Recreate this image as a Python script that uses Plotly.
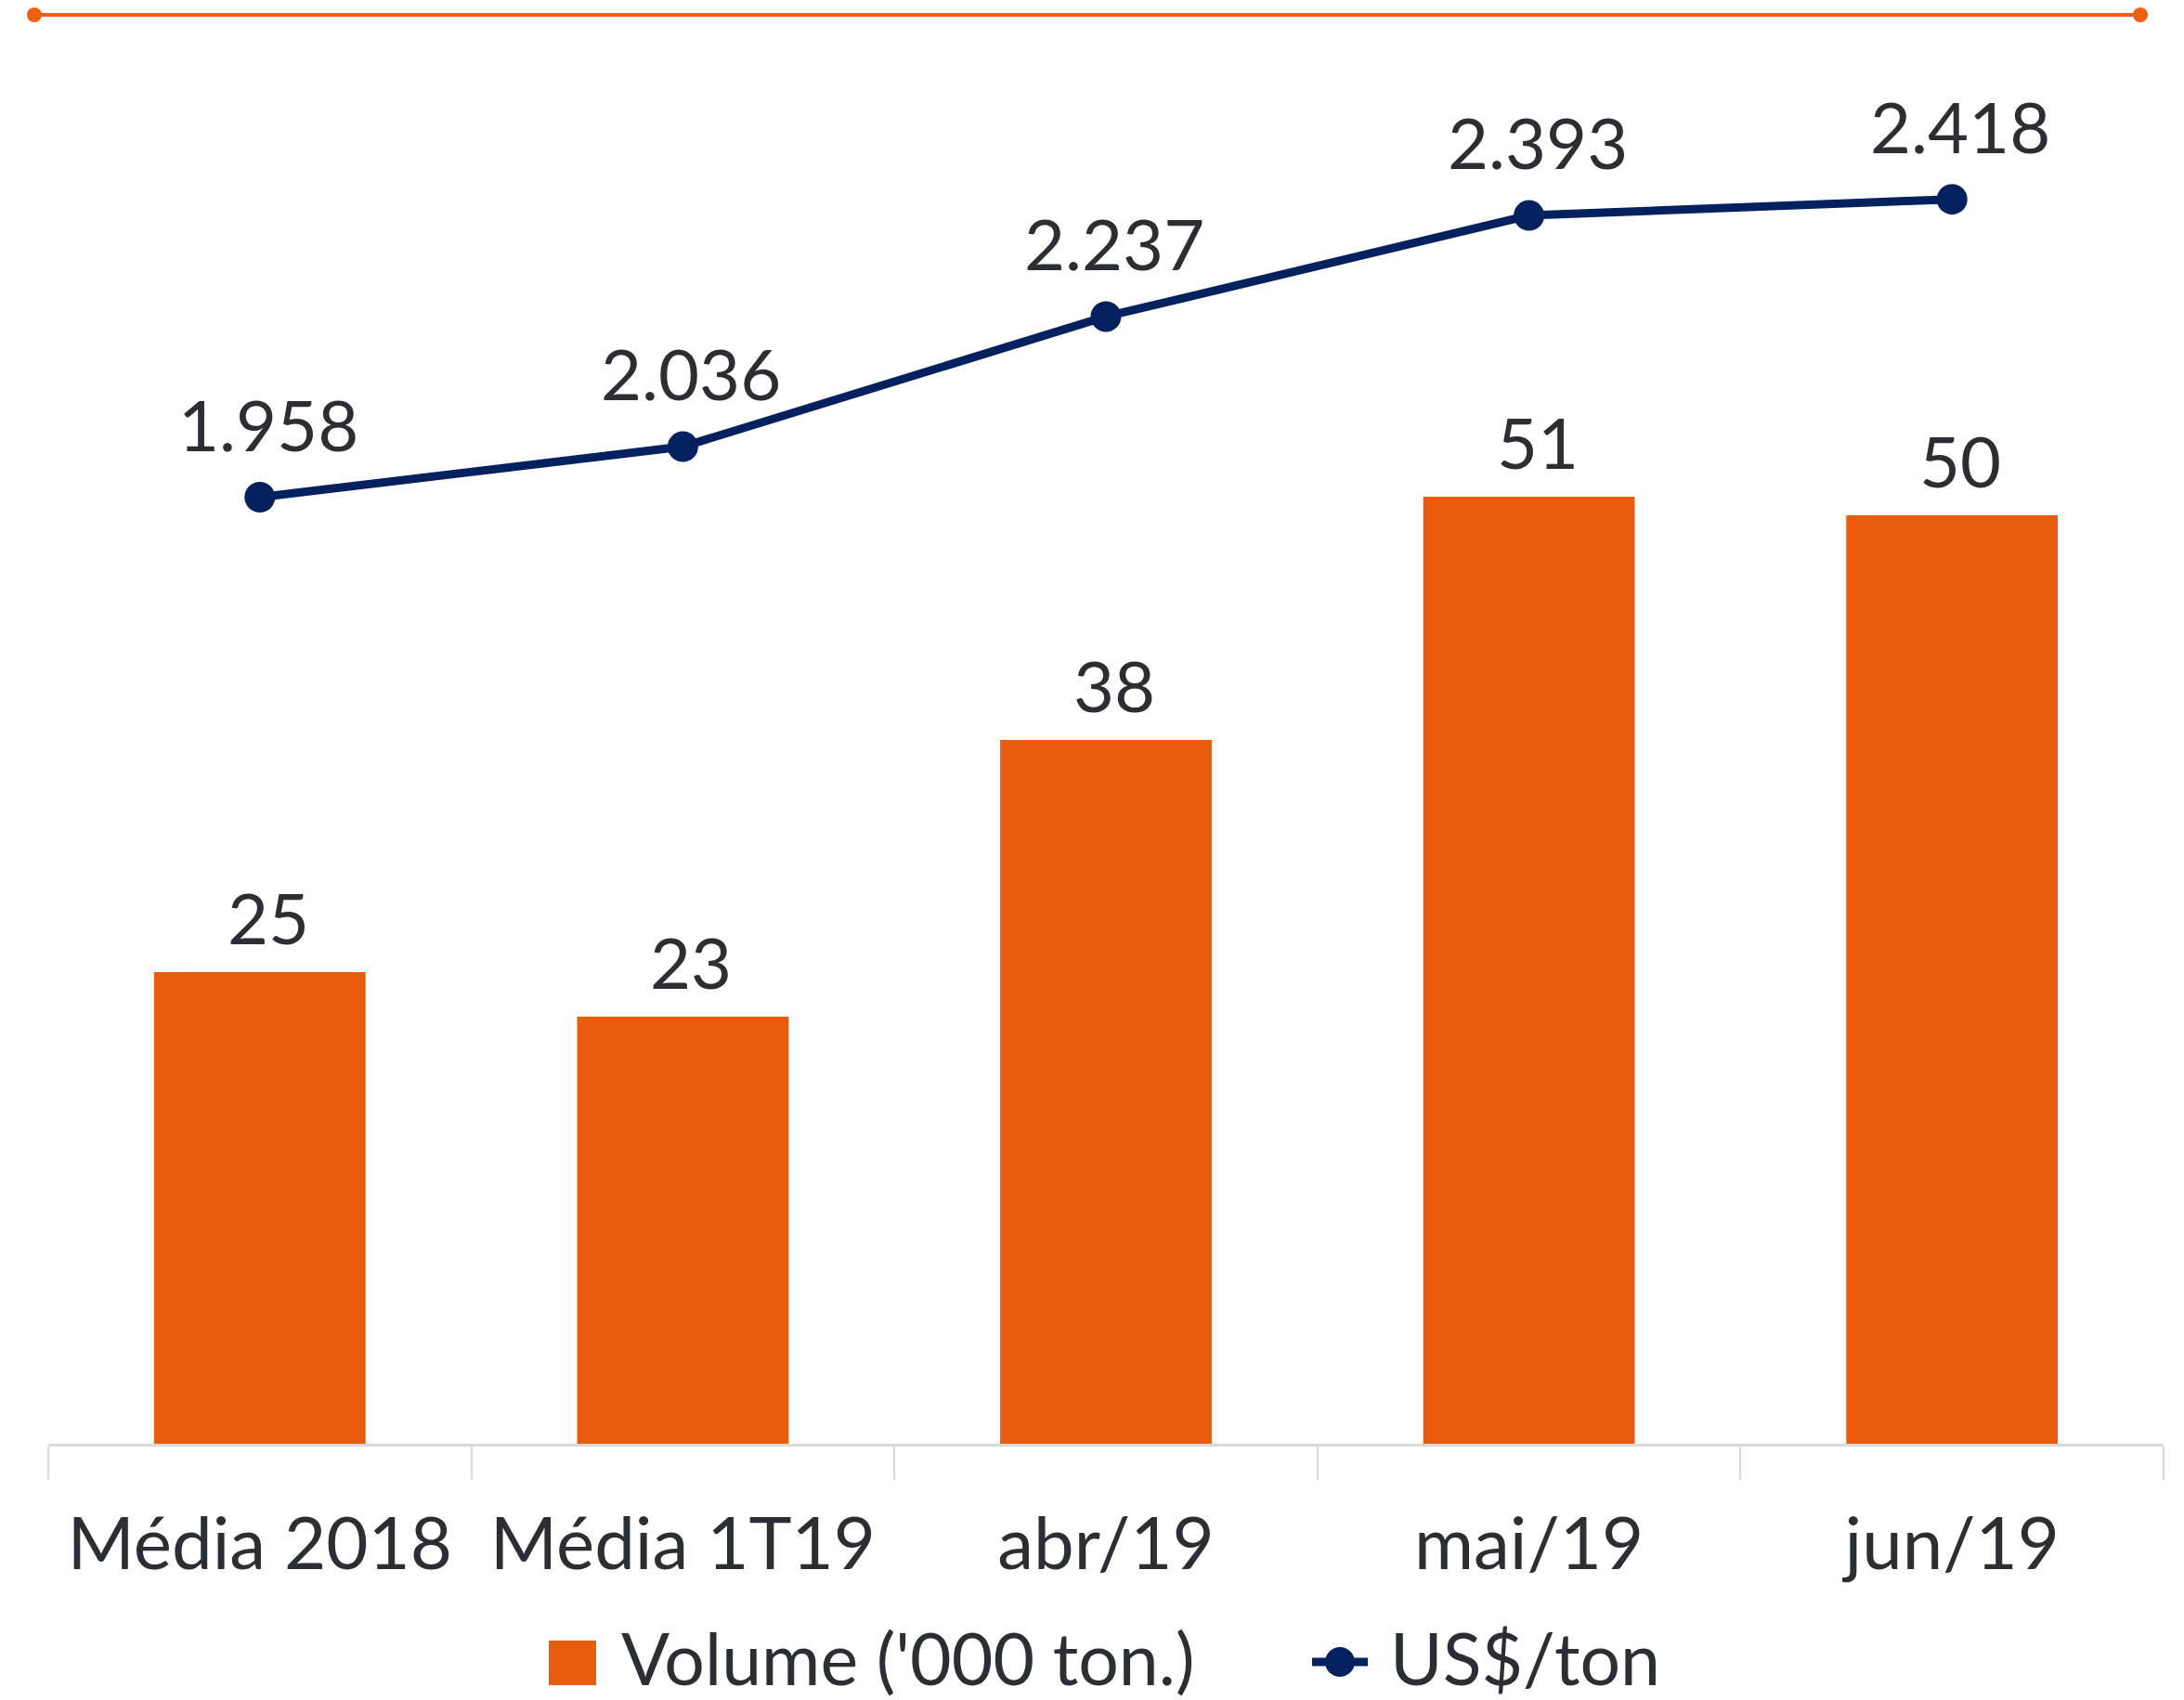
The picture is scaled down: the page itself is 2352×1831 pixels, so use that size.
import plotly.graph_objects as go

categories = ["Média 2018", "Média 1T19", "abr/19", "mai/19", "jun/19"]
volume = [25.4, 23.0, 37.9, 51.0, 50.0]
volume_labels = ["25", "23", "38", "51", "50"]
price = [1958, 2036, 2237, 2393, 2418]

ORANGE = "#E95B0D"
NAVY = "#03215E"
TEXT = "#2B2E33"
FONT = "Lato"

W, H = 2352, 1831
ML = 52
MT = 30
MR = W - 2330
MB = H - 1555
PW = W - ML - MR
PH = H - MT - MB


def px2paper_x(px):
    return (px - ML) / PW


def px2paper_y(py):
    return (H - MB - py) / PH


fig = go.Figure()
fig.add_trace(go.Bar(
    x=categories, y=volume, name="Volume ('000 ton.)",
    marker=dict(color=ORANGE, line=dict(width=0)), width=0.5,
    showlegend=False, hoverinfo="skip",
))
fig.add_trace(go.Scatter(
    x=categories, y=price, name="US$/ton", yaxis="y2",
    mode="lines+markers",
    line=dict(color=NAVY, width=9),
    marker=dict(color=NAVY, size=33),
    showlegend=False, hoverinfo="skip",
))

annotations = []
for c, v, lab in zip(categories, volume, volume_labels):
    annotations.append(dict(
        x=c, y=v, xref="x", yref="y", text=lab, showarrow=False,
        yanchor="bottom", xanchor="center", xshift=9, yshift=12,
        font=dict(family=FONT, size=76, color=TEXT),
    ))
for c, v in zip(categories, price):
    annotations.append(dict(
        x=c, y=v, xref="x", yref="y2", text=f"{v:,}".replace(",", "."),
        showarrow=False, yanchor="bottom", xanchor="center", xshift=9, yshift=32,
        font=dict(family=FONT, size=76, color=TEXT),
    ))

# custom legend
annotations.append(dict(
    x=px2paper_x(667), y=px2paper_y(1785), xref="paper", yref="paper",
    text="Volume ('000 ton.)", showarrow=False, xanchor="left", yanchor="middle",
    font=dict(family=FONT, size=77, color=TEXT),
))
annotations.append(dict(
    x=px2paper_x(1495), y=px2paper_y(1785), xref="paper", yref="paper",
    text="US$/ton", showarrow=False, xanchor="left", yanchor="middle",
    font=dict(family=FONT, size=77, color=TEXT),
))

top_y = px2paper_y(16)
shapes = [
    dict(type="line", xref="paper", yref="paper", x0=px2paper_x(37), x1=px2paper_x(2305),
         y0=top_y, y1=top_y, line=dict(color="#EE6011", width=4)),
    dict(type="circle", xref="paper", yref="paper", xsizemode="pixel", ysizemode="pixel",
         xanchor=px2paper_x(37), yanchor=top_y, x0=-8, x1=8, y0=-8, y1=8,
         fillcolor="#EE6011", line=dict(width=0)),
    dict(type="circle", xref="paper", yref="paper", xsizemode="pixel", ysizemode="pixel",
         xanchor=px2paper_x(2305), yanchor=top_y, x0=-8, x1=8, y0=-8, y1=8,
         fillcolor="#EE6011", line=dict(width=0)),
    # legend: square
    dict(type="rect", xref="paper", yref="paper",
         x0=px2paper_x(591), x1=px2paper_x(642), y0=px2paper_y(1815), y1=px2paper_y(1767),
         fillcolor=ORANGE, line=dict(width=0)),
    # legend: line + marker
    dict(type="line", xref="paper", yref="paper",
         x0=px2paper_x(1413), x1=px2paper_x(1473), y0=px2paper_y(1790), y1=px2paper_y(1790),
         line=dict(color=NAVY, width=9)),
    dict(type="circle", xref="paper", yref="paper", xsizemode="pixel", ysizemode="pixel",
         xanchor=px2paper_x(1443), yanchor=px2paper_y(1790), x0=-16, x1=16, y0=-16, y1=16,
         fillcolor=NAVY, line=dict(width=0)),
]

fig.update_layout(
    width=W, height=H,
    margin=dict(l=ML, r=MR, t=MT, b=MB),
    paper_bgcolor="white", plot_bgcolor="white",
    showlegend=False,
    font=dict(family=FONT, color=TEXT),
    xaxis=dict(
        type="category", range=[-0.5, 4.5],
        showline=True, linecolor="#D9D9D9", linewidth=3,
        ticks="outside", tickson="boundaries", ticklen=36, tickcolor="#D9D9D9", tickwidth=2,
        ticklabelstandoff=38,
        tickfont=dict(family=FONT, size=78, color=TEXT),
        showgrid=False, zeroline=False, fixedrange=True,
    ),
    yaxis=dict(range=[0, 76.25], visible=False, showgrid=False, zeroline=False),
    yaxis2=dict(range=[496.4, 2682.7], overlaying="y", visible=False,
                showgrid=False, zeroline=False),
    annotations=annotations,
    shapes=shapes,
)

fig.write_html(
    "out.html",
    config={"displayModeBar": False, "staticPlot": True},
    post_script="document.body.style.margin='0';document.body.style.overflow='hidden';",
)
